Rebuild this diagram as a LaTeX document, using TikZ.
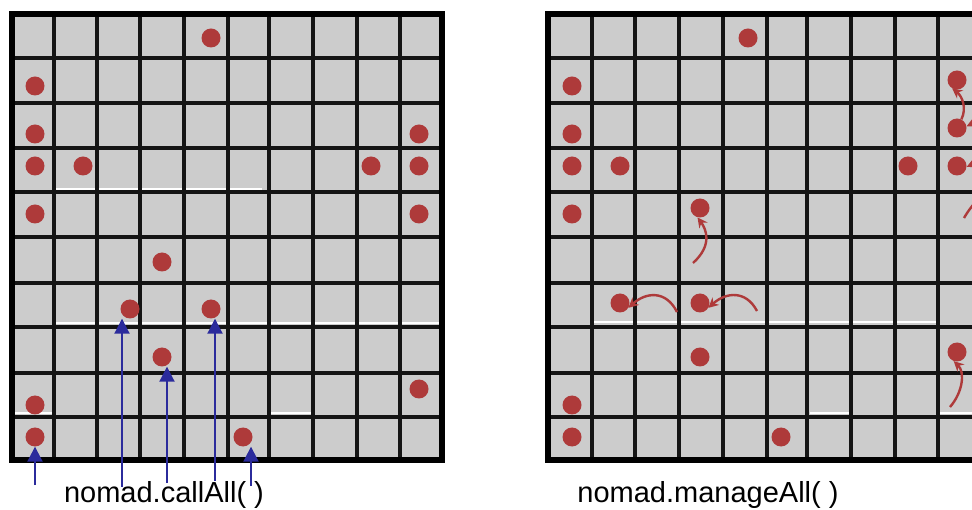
\documentclass[tikz,border=0pt]{standalone}
\usepackage{fontspec}
\setmainfont{Liberation Sans}
\usepackage{tikz}
\usetikzlibrary{arrows.meta, positioning, calc}
\usepackage{xcolor}
\definecolor{CellGray}{HTML}{CCCCCC}
\definecolor{AgentRed}{HTML}{AE3A3A}
\definecolor{CallBlue}{HTML}{2B2B9C}

\begin{document}
\begin{tikzpicture}[x=1pt, y=-1pt,
    agent/.style={circle, fill=AgentRed, inner sep=0pt, minimum size=19pt},
    callarrow/.style={-{Triangle[length=15pt,width=15pt]}, line width=2pt, CallBlue},
    movearrow/.style={-{Stealth[length=10pt,width=10pt]}, line width=2.4pt, AgentRed},
    gridline/.style={line width=3.2pt, black!92},
    border/.style={line width=5.5pt, black},
    glitch/.style={line width=2pt, white}]
        \useasboundingbox (0,0) rectangle (972,510);
        \clip (0,0) rectangle (972,510);
        \fill[CellGray] (12,14) rectangle (442,460);
        \fill[CellGray] (548,14) rectangle (981,460);
        \draw[glitch] (55,189) -- (262,189);
        \draw[glitch] (55,323) -- (442,323);
        \draw[glitch] (13,413) -- (53,413);
        \draw[glitch] (270,413) -- (311,413);
        \draw[glitch] (593,322) -- (936,322);
        \draw[glitch] (810,413) -- (850,413);
        \draw[glitch] (940,413) -- (981,413);
        \foreach \x in {54,97,140,184,228,269,313,357,400}
            \draw[gridline] (\x,14) -- (\x,460);
        \foreach \x in {592,635,679,723,767,807,851,895,938}
            \draw[gridline] (\x,14) -- (\x,460);
        \foreach \y in {58,103,148,192,237,283,327,373,417} {
            \draw[gridline] (12,\y) -- (442,\y);
            \draw[gridline] (548,\y) -- (981,\y);
        }
        \draw[border] (12,14) rectangle (442,460);
        \draw[border] (548,14) rectangle (981,460);

        \node[agent] (l1) at (211,38) {};
        \node[agent] (l2) at (35,86) {};
        \node[agent] (l3) at (35,134) {};
        \node[agent] (l4) at (35,166) {};
        \node[agent] (l5) at (83,166) {};
        \node[agent] (l6) at (35,214) {};
        \node[agent] (l7) at (130,309) {};
        \node[agent] (l8) at (211,309) {};
        \node[agent] (l9) at (162,357) {};
        \node[agent] (l10) at (162,262) {};
        \node[agent] (l11) at (35,405) {};
        \node[agent] (l12) at (35,437) {};
        \node[agent] (l13) at (243,437) {};
        \node[agent] (l14) at (419,134) {};
        \node[agent] (l15) at (371,166) {};
        \node[agent] (l16) at (419,166) {};
        \node[agent] (l17) at (419,214) {};
        \node[agent] (l18) at (419,389) {};

        \coordinate (c1) at (35,485);
        \coordinate (c2) at (122,487);
        \coordinate (c3) at (167,483);
        \coordinate (c4) at (215,481);
        \coordinate (c5) at (251,486);
        \draw[callarrow] (c1) -- (c1 |- l12.south);
        \draw[callarrow] (c2) -- (c2 |- l7.south);
        \draw[callarrow] (c3) -- (c3 |- l9.south);
        \draw[callarrow] (c4) -- (c4 |- l8.south);
        \draw[callarrow] (c5) -- (c5 |- l13.south);
        \node[font=\fontsize{29}{34}\selectfont, anchor=base] (calllabel) at (164,502) {nomad.callAll( )};

        \node[agent] (r1) at (748,38) {};
        \node[agent] (r2) at (572,86) {};
        \node[agent] (r3) at (572,134) {};
        \node[agent] (r4) at (572,166) {};
        \node[agent] (r5) at (620,166) {};
        \node[agent] (r6) at (572,214) {};
        \node[agent] (r7) at (700,208) {};
        \node[agent] (r8) at (620,303) {};
        \node[agent] (r9) at (700,303) {};
        \node[agent] (r10) at (700,357) {};
        \node[agent] (r11) at (572,405) {};
        \node[agent] (r12) at (572,437) {};
        \node[agent] (r13) at (781,437) {};
        \node[agent] (r14) at (908,166) {};
        \node[agent] (r15) at (957,80) {};
        \node[agent] (r16) at (957,128) {};
        \node[agent] (r17) at (957,166) {};
        \node[agent] (r18) at (957,352) {};

        \coordinate (m1) at (693,263);
        \coordinate (m2) at (677,312);
        \coordinate (m3) at (757,311);
        \coordinate (m4) at (1002,142);
        \coordinate (m5) at (1002,185);
        \coordinate (m6) at (964,218);
        \coordinate (offcell) at (1000,182);
        \coordinate (m7) at (950,407);
        \draw[movearrow] (m1) .. controls (713,245) and (706,229) .. (r7.-105);
        \draw[movearrow] (m2) .. controls (666,290) and (646,292) .. (r8.-30);
        \draw[movearrow] (m3) .. controls (746,290) and (726,292) .. (r9.-30);
        \draw[movearrow] (r16.63) .. controls (967,108) and (962,96) .. (r15.-120);
        \draw[movearrow] (m4) .. controls (992,118) and (980,120) .. (r16.10);
        \draw[movearrow] (m5) .. controls (992,160) and (982,160) .. (r17.-5);
        \draw[movearrow] (m6) .. controls (972,204) and (984,192) .. (offcell);
        \draw[movearrow] (m7) .. controls (963,392) and (965,372) .. (r18.-110);
        \node[font=\fontsize{29}{34}\selectfont, anchor=base] (managelabel) at (708,502) {nomad.manageAll( )};
    \end{tikzpicture}
\end{document}
